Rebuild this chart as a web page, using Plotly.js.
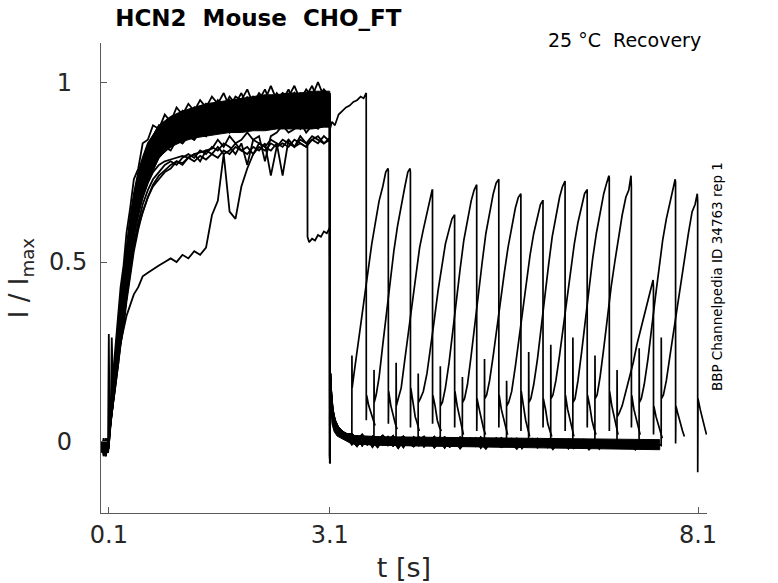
<!DOCTYPE html>
<html>
<head>
<meta charset="utf-8">
<script src="https://cdn.plot.ly/plotly-3.0.1.min.js"></script>
<style>
  html, body { margin: 0; padding: 0; background: #fff; }
  #chart { width: 778px; height: 583px; }
</style>
</head>
<body>
<div id="chart"></div>
<script>
// activation step (0.1 s -> 3.1 s), shared time grid
const actT = [0.00, 0.03, 0.06, 0.09, 0.10, 0.11, 0.125, 0.14, 0.16, 0.18, 0.20,
  0.23, 0.26, 0.30, 0.34, 0.39, 0.44, 0.50, 0.56, 0.63, 0.70,
  0.78, 0.86, 0.94, 1.02, 1.10, 1.18, 1.26, 1.34, 1.42, 1.50,
  1.58, 1.66, 1.74, 1.82, 1.90, 1.98, 2.06, 2.14, 2.22, 2.30,
  2.38, 2.46, 2.54, 2.62, 2.70, 2.78, 2.86, 2.94, 3.02, 3.10];

// fast sweeps
const actF1 = [-0.02, 0.01, -0.03, -0.01, 0.00, 0.05, 0.10, 0.13, 0.19, 0.24, 0.29,
  0.36, 0.43, 0.49, 0.58, 0.65, 0.73, 0.76, 0.83, 0.84, 0.88,
  0.87, 0.91, 0.89, 0.93, 0.91, 0.94, 0.92, 0.95, 0.93, 0.96,
  0.94, 0.97, 0.93, 0.96, 0.95, 0.98, 0.94, 0.97, 0.95, 0.99,
  0.95, 0.97, 0.96, 0.99, 0.95, 0.98, 0.96, 1.00, 0.96, 0.97];
const actF2 = [-0.01, -0.03, 0.00, -0.02, 0.01, 0.04, 0.08, 0.12, 0.17, 0.22, 0.27,
  0.33, 0.40, 0.47, 0.54, 0.62, 0.69, 0.75, 0.79, 0.83, 0.85,
  0.88, 0.86, 0.90, 0.89, 0.92, 0.90, 0.93, 0.91, 0.94, 0.92,
  0.95, 0.93, 0.96, 0.94, 0.97, 0.93, 0.96, 0.95, 0.98, 0.94,
  0.97, 0.95, 0.98, 0.94, 0.97, 0.96, 0.99, 0.95, 0.98, 0.96];
const actF3 = [0.00, -0.02, -0.04, 0.01, -0.01, 0.04, 0.07, 0.11, 0.16, 0.21, 0.25,
  0.31, 0.38, 0.44, 0.52, 0.59, 0.66, 0.72, 0.77, 0.81, 0.84,
  0.85, 0.88, 0.87, 0.90, 0.88, 0.91, 0.90, 0.92, 0.90, 0.93,
  0.91, 0.94, 0.92, 0.95, 0.93, 0.96, 0.92, 0.95, 0.94, 0.96,
  0.93, 0.96, 0.94, 0.97, 0.95, 0.93, 0.97, 0.95, 0.98, 0.95];
const actF4 = [-0.03, 0.00, -0.01, -0.03, 0.00, 0.06, 0.07, 0.10, 0.15, 0.20, 0.24,
  0.30, 0.36, 0.42, 0.50, 0.57, 0.64, 0.70, 0.75, 0.79, 0.82,
  0.86, 0.84, 0.88, 0.87, 0.89, 0.91, 0.88, 0.92, 0.91, 0.93,
  0.90, 0.93, 0.95, 0.91, 0.94, 0.92, 0.96, 0.93, 0.95, 0.92,
  0.96, 0.93, 0.95, 0.97, 0.93, 0.96, 0.94, 0.97, 0.94, 0.95];
const actF5 = [-0.02, -0.01, -0.03, 0.00, 0.30, 0.04, 0.06, 0.09, 0.14, 0.18, 0.22,
  0.28, 0.34, 0.40, 0.47, 0.55, 0.62, 0.68, 0.73, 0.77, 0.80,
  0.83, 0.85, 0.84, 0.87, 0.86, 0.89, 0.87, 0.90, 0.88, 0.91,
  0.89, 0.92, 0.90, 0.93, 0.91, 0.94, 0.92, 0.90, 0.94, 0.93,
  0.91, 0.95, 0.92, 0.94, 0.96, 0.92, 0.95, 0.93, 0.96, 0.94];
const actF6 = [-0.01, -0.04, -0.02, 0.00, -0.01, 0.03, 0.06, 0.09, 0.13, 0.17, 0.21,
  0.27, 0.32, 0.38, 0.45, 0.53, 0.60, 0.66, 0.71, 0.75, 0.79,
  0.82, 0.84, 0.83, 0.86, 0.85, 0.87, 0.89, 0.86, 0.90, 0.88,
  0.91, 0.88, 0.92, 0.90, 0.93, 0.89, 0.92, 0.91, 0.94, 0.90,
  0.93, 0.91, 0.94, 0.92, 0.90, 0.94, 0.92, 0.95, 0.91, 0.93];
const actF7 = [-0.02, 0.00, -0.03, -0.02, 0.00, 0.03, 0.05, 0.29, 0.12, 0.16, 0.19,
  0.25, 0.30, 0.36, 0.43, 0.51, 0.58, 0.64, 0.69, 0.73, 0.77,
  0.80, 0.82, 0.81, 0.84, 0.83, 0.85, 0.84, 0.87, 0.85, 0.88,
  0.86, 0.89, 0.87, 0.90, 0.88, 0.91, 0.87, 0.90, 0.89, 0.92,
  0.88, 0.91, 0.89, 0.92, 0.90, 0.93, 0.89, 0.92, 0.90, 0.91];
const actF8 = [-0.01, -0.02, -0.04, -0.01, 0.01, 0.03, 0.05, 0.07, 0.11, 0.14, 0.17,
  0.22, 0.28, 0.35, 0.42, 0.51, 0.59, 0.66, 0.70, 0.73, 0.76,
  0.79, 0.81, 0.82, 0.84, 0.83, 0.85, 0.84, 0.86, 0.85, 0.87,
  0.86, 0.88, 0.86, 0.89, 0.87, 0.88, 0.90, 0.87, 0.89, 0.88,
  0.90, 0.88, 0.91, 0.89, 0.87, 0.90, 0.89, 0.91, 0.88, 0.90];
// slower sweeps
const actL0 = [-0.02, 0.00, -0.02, -0.03, 0.00, 0.04, 0.06, 0.08, 0.12, 0.16, 0.19,
  0.24, 0.29, 0.35, 0.42, 0.50, 0.57, 0.63, 0.68, 0.72, 0.75,
  0.77, 0.78, 0.785, 0.79, 0.795, 0.79, 0.80, 0.805, 0.81, 0.815,
  0.84, 0.82, 0.85, 0.83, 0.84, 0.86, 0.84, 0.85, 0.78, 0.85,
  0.86, 0.88, 0.86, 0.87, 0.89, 0.86, 0.88, 0.87, 0.89, 0.88];
const actL1 = [-0.03, -0.01, 0.00, -0.02, 0.00, 0.04, 0.06, 0.08, 0.11, 0.15, 0.18,
  0.23, 0.27, 0.33, 0.40, 0.47, 0.54, 0.60, 0.64, 0.68, 0.715,
  0.74, 0.755, 0.77, 0.78, 0.775, 0.79, 0.78, 0.795, 0.785, 0.80,
  0.79, 0.81, 0.80, 0.82, 0.81, 0.80, 0.82, 0.81, 0.83, 0.74,
  0.82, 0.83, 0.82, 0.84, 0.83, 0.82, 0.84, 0.83, 0.85, 0.835];
const actL2 = [-0.01, -0.02, 0.01, -0.02, -0.01, 0.03, 0.05, 0.08, 0.12, 0.15, 0.19,
  0.24, 0.28, 0.34, 0.41, 0.48, 0.55, 0.61, 0.66, 0.70, 0.73,
  0.75, 0.77, 0.78, 0.77, 0.79, 0.80, 0.79, 0.81, 0.80, 0.82,
  0.81, 0.83, 0.82, 0.80, 0.83, 0.77, 0.84, 0.83, 0.82, 0.84,
  0.83, 0.74, 0.84, 0.82, 0.85, 0.83, 0.84, 0.85, 0.83, 0.845];
// sweep that steps down to ~0.57 near 2.8 s
const actL3 = [0.00, -0.03, -0.01, 0.00, -0.02, 0.03, 0.05, 0.07, 0.11, 0.14, 0.18,
  0.22, 0.27, 0.32, 0.39, 0.46, 0.53, 0.59, 0.64, 0.68, 0.71,
  0.73, 0.75, 0.76, 0.78, 0.77, 0.79, 0.80, 0.78, 0.81, 0.80,
  0.82, 0.80, 0.81, 0.83, 0.81, 0.82, 0.80, 0.83, 0.82, 0.81,
  0.83, 0.82, 0.84, 0.82, 0.83, 0.82];
const stepT = [2.797, 2.798, 2.82, 2.86, 2.90, 2.94, 2.98, 3.02, 3.06, 3.10];
const stepY = [0.83, 0.57, 0.555, 0.565, 0.56, 0.575, 0.57, 0.585, 0.58, 0.595];
// the slowest sweep
const actS = [-0.02, 0.00, -0.03, -0.01, 0.01, 0.06, 0.10, 0.13, 0.17, 0.20, 0.22,
  0.25, 0.28, 0.31, 0.35, 0.38, 0.41, 0.43, 0.46, 0.47, 0.48,
  0.49, 0.50, 0.51, 0.50, 0.52, 0.51, 0.53, 0.52, 0.54, 0.63,
  0.67, 0.80, 0.64, 0.62, 0.71, 0.76, 0.80, 0.82, 0.81, 0.83,
  0.82, 0.84, 0.83, 0.82, 0.84, 0.83, 0.85, 0.84, 0.83, 0.84];

// dense core of the fast sweeps (noise makes it solid black)
const coreT  = [0.14, 0.18, 0.23, 0.30, 0.39, 0.50, 0.63, 0.78, 0.94, 1.10, 1.26, 1.42, 1.58, 1.74, 1.90, 2.06, 2.22, 2.38, 2.54, 2.70, 2.86, 3.02, 3.10];
const coreHi = [0.11, 0.21, 0.33, 0.47, 0.63, 0.75, 0.83, 0.88, 0.905, 0.92, 0.93, 0.94, 0.945, 0.95, 0.955, 0.96, 0.965, 0.965, 0.97, 0.97, 0.975, 0.975, 0.975];
const coreLo = [0.07, 0.15, 0.25, 0.37, 0.51, 0.64, 0.72, 0.79, 0.82, 0.835, 0.845, 0.85, 0.855, 0.86, 0.86, 0.865, 0.865, 0.87, 0.87, 0.87, 0.87, 0.875, 0.875];

// deactivation + waiting time before each test pulse (shared grid)
const baseT = [3.101, 3.104, 3.11, 3.12, 3.14, 3.17, 3.21, 3.26, 3.32,
  3.40, 3.47, 3.54, 3.61, 3.68, 3.75, 3.82, 3.89, 3.96, 4.03,
  4.10, 4.17, 4.24, 4.31, 4.38, 4.45, 4.52, 4.59, 4.66, 4.73,
  4.80, 4.87, 4.94, 5.01, 5.08, 5.15, 5.22, 5.29, 5.36, 5.43,
  5.50, 5.57, 5.64, 5.71, 5.78, 5.85, 5.92, 5.99, 6.06, 6.13,
  6.20, 6.27, 6.34, 6.41, 6.48, 6.55, 6.62, 6.69, 6.76, 6.83,
  6.90, 6.97, 7.04, 7.11, 7.18, 7.25, 7.32, 7.39, 7.46, 7.53,
  7.60];
const base1 = [-0.05, 0.24, 0.18, 0.13, 0.085, 0.055, 0.04, 0.03, 0.02,
  0.018, 0.005, 0.020, 0.002, 0.014, -0.006, 0.012, 0.000, 0.016, -0.008,
  0.010, -0.004, 0.013, -0.010, 0.008, 0.001, 0.014, -0.007, 0.009, -0.012,
  0.006, 0.012, -0.008, 0.010, -0.005, 0.013, -0.011, 0.007, 0.000, 0.011,
  -0.009, 0.008, -0.014, 0.006, 0.002, -0.010, 0.009, -0.006, 0.005, -0.013,
  0.007, -0.008, 0.004, -0.015, 0.006, -0.005, -0.012, 0.005, -0.010, 0.003,
  -0.016, -0.002, 0.006, -0.014, -0.005, 0.004, -0.017, -0.004, 0.002, -0.013,
  -0.006];
const base2 = [-0.04, 0.20, 0.16, 0.11, 0.075, 0.05, 0.035, 0.022, 0.015,
  -0.007, 0.014, -0.010, 0.011, -0.014, 0.008, -0.006, 0.013, -0.011, 0.006,
  -0.015, 0.010, -0.002, 0.012, -0.013, 0.005, -0.009, 0.011, -0.016, 0.004,
  0.009, -0.012, 0.007, -0.008, 0.010, -0.017, 0.003, -0.006, 0.008, -0.014,
  0.005, -0.011, 0.007, -0.018, 0.000, 0.006, -0.013, 0.004, -0.015, 0.008,
  -0.010, 0.003, -0.019, 0.005, -0.008, 0.006, -0.014, -0.001, -0.020, 0.004,
  -0.011, -0.004, 0.003, -0.017, -0.007, -0.022, 0.000, -0.013, -0.006, -0.018,
  -0.003];
const base3 = [-0.06, 0.26, 0.19, 0.14, 0.09, 0.06, 0.042, 0.03, 0.022,
  0.022, 0.008, 0.018, 0.004, 0.015, 0.007, 0.017, 0.001, 0.012, 0.005,
  0.015, -0.001, 0.011, 0.004, 0.014, -0.003, 0.010, 0.002, 0.013, -0.002,
  0.008, 0.012, 0.000, 0.009, -0.004, 0.011, 0.002, -0.003, 0.010, -0.001,
  0.007, -0.006, 0.009, 0.001, -0.005, 0.008, -0.002, 0.006, -0.007, 0.005,
  0.000, -0.009, 0.006, -0.004, 0.004, -0.010, 0.003, -0.006, 0.005, -0.012,
  -0.002, 0.004, -0.008, -0.003, 0.003, -0.013, -0.005, 0.001, -0.010, -0.004,
  -0.008];
const base4 = [-0.045, 0.21, 0.17, 0.12, 0.08, 0.052, 0.038, 0.027, 0.018,
  0.004, -0.012, 0.008, -0.008, 0.002, -0.015, 0.006, -0.010, 0.003, -0.017,
  0.005, -0.004, -0.013, 0.002, -0.011, 0.006, -0.016, 0.000, -0.005, -0.014,
  0.003, -0.018, -0.002, 0.004, -0.012, -0.003, -0.019, 0.001, -0.008, -0.015,
  0.002, -0.006, -0.020, -0.001, -0.013, 0.003, -0.017, -0.007, -0.002, -0.021,
  -0.004, -0.014, 0.000, -0.018, -0.008, -0.003, -0.022, -0.006, -0.015, -0.001,
  -0.019, -0.009, -0.024, -0.005, -0.016, -0.010, -0.026, -0.007, -0.020, -0.012,
  -0.022];
// dense core of the waiting baseline
const floorT  = [3.115, 3.13, 3.16, 3.20, 3.28, 3.40, 3.8, 4.3, 4.8, 5.3, 5.8, 6.3, 6.8, 7.3, 7.58];
const floorHi = [0.17, 0.10, 0.06, 0.042, 0.028, 0.018, 0.014, 0.013, 0.012, 0.011, 0.010, 0.009, 0.008, 0.007, 0.006];
const floorLo = [0.10, 0.05, 0.028, 0.016, 0.006, -0.006, -0.010, -0.012, -0.013, -0.014, -0.016, -0.018, -0.019, -0.021, -0.022];

// recovery intervals and level of each sweep at 3.1 s
const delays = [0, 0.3, 0.6, 0.9, 1.2, 1.5, 1.8, 2.1, 2.4, 2.7, 3.0, 3.3, 3.6, 3.9, 4.2, 4.5];
const recStart = [0.88, 0.97, 0.965, 0.955, 0.95, 0.94, 0.93, 0.915, 0.90, 0.835, 0.845, 0.595, 0.84, 0.97, 0.96, 0.95];

// test pulse, time after its start
const testOff = [0, 0.001, 0.004, 0.03, 0.07, 0.12, 0.17, 0.22, 0.27, 0.32, 0.37, 0.42, 0.46, 0.49,
  0.495, 0.496, 0.50, 0.53, 0.56, 0.59, 0.615];
const rec00 = [0.88, 0.91, 0.87, 0.89, 0.88, 0.91, 0.92, 0.93, 0.935, 0.945, 0.95, 0.96, 0.955, 0.97, 0.97, 0.06, 0.13, 0.10, 0.08, 0.06, 0.045];
const rec01 = [0.01, 0.24, 0.15, 0.19, 0.25, 0.33, 0.41, 0.48, 0.55, 0.61, 0.67, 0.71, 0.75, 0.76, 0.755, 0.05, 0.14, 0.10, 0.07, 0.05, 0.035];
const rec02 = [0.00, 0.20, 0.11, 0.13, 0.18, 0.27, 0.36, 0.45, 0.53, 0.60, 0.66, 0.71, 0.75, 0.76, 0.75, 0.04, 0.15, 0.11, 0.07, 0.05, 0.03];
const rec03 = [0.01, 0.22, 0.10, 0.12, 0.15, 0.23, 0.31, 0.39, 0.47, 0.54, 0.59, 0.64, 0.68, 0.70, 0.70, 0.05, 0.13, 0.10, 0.06, 0.04, 0.03];
const rec04 = [0.00, 0.19, 0.11, 0.12, 0.14, 0.19, 0.26, 0.34, 0.42, 0.49, 0.55, 0.59, 0.62, 0.63, 0.63, 0.04, 0.14, 0.10, 0.07, 0.04, 0.02];
const rec05 = [-0.005, 0.21, 0.10, 0.11, 0.15, 0.22, 0.31, 0.40, 0.48, 0.56, 0.62, 0.67, 0.70, 0.71, 0.715, 0.03, 0.12, 0.09, 0.06, 0.035, 0.02];
const rec06 = [0.00, 0.18, 0.11, 0.12, 0.16, 0.24, 0.33, 0.42, 0.50, 0.58, 0.64, 0.69, 0.72, 0.73, 0.73, 0.04, 0.13, 0.09, 0.06, 0.04, 0.02];
const rec07 = [0.00, 0.23, 0.12, 0.13, 0.17, 0.24, 0.32, 0.40, 0.47, 0.54, 0.60, 0.65, 0.68, 0.69, 0.69, 0.03, 0.14, 0.10, 0.06, 0.035, 0.015];
const rec08 = [-0.01, 0.17, 0.10, 0.11, 0.14, 0.21, 0.29, 0.37, 0.45, 0.52, 0.58, 0.63, 0.66, 0.67, 0.67, 0.04, 0.12, 0.09, 0.05, 0.03, 0.015];
const rec09 = [0.00, 0.25, 0.11, 0.12, 0.16, 0.23, 0.32, 0.41, 0.49, 0.57, 0.63, 0.68, 0.71, 0.72, 0.725, 0.03, 0.13, 0.09, 0.06, 0.035, 0.015];
const rec10 = [-0.005, 0.27, 0.12, 0.13, 0.17, 0.24, 0.32, 0.40, 0.48, 0.55, 0.61, 0.66, 0.69, 0.70, 0.70, 0.04, 0.13, 0.10, 0.06, 0.035, 0.02];
const rec11 = [-0.01, 0.29, 0.11, 0.12, 0.17, 0.25, 0.34, 0.43, 0.51, 0.58, 0.64, 0.69, 0.72, 0.74, 0.735, 0.03, 0.14, 0.10, 0.07, 0.04, 0.02];
const rec12 = [-0.005, 0.24, 0.12, 0.13, 0.18, 0.26, 0.35, 0.43, 0.50, 0.57, 0.63, 0.68, 0.70, 0.74, 0.71, 0.04, 0.13, 0.09, 0.06, 0.04, 0.02];
const rec13 = [-0.01, 0.20, 0.07, 0.08, 0.10, 0.14, 0.18, 0.22, 0.27, 0.31, 0.35, 0.39, 0.42, 0.45, 0.43, 0.02, 0.10, 0.07, 0.05, 0.03, 0.01];
const rec14 = [-0.01, 0.26, 0.11, 0.12, 0.16, 0.23, 0.32, 0.40, 0.48, 0.56, 0.62, 0.67, 0.71, 0.73, 0.72, -0.005, 0.10, 0.075, 0.05, 0.03, 0.015];
const rec15 = [-0.01, 0.29, 0.12, 0.13, 0.17, 0.24, 0.31, 0.38, 0.45, 0.52, 0.58, 0.64, 0.66, 0.69, 0.67, -0.085, 0.12, 0.09, 0.06, 0.04, 0.02];

const xTicks = [0.1, 3.1, 8.1];
const yTicks = [0, 0.5, 1];
const yTickText = ['0\u00a0\u00a0', '0.5', '1\u00a0\u00a0'];

const FONT = 'DejaVu Sans, Verdana, sans-serif';
const traces = [];

function addLine(x, y, w) {
  traces.push({x: x, y: y, type: 'scatter', mode: 'lines',
    line: {color: '#000', width: w}, hoverinfo: 'skip', showlegend: false});
}
function addCore(x, hi, lo) {
  traces.push({x: x.concat(x.slice().reverse()), y: hi.concat(lo.slice().reverse()),
    type: 'scatter', mode: 'lines', fill: 'toself', fillcolor: '#000',
    line: {color: '#000', width: 1}, hoverinfo: 'skip', showlegend: false});
}

addCore(coreT, coreHi, coreLo);
addCore(floorT, floorHi, floorLo);

// activation part
[actF1, actF2, actF3, actF4, actF5, actF6, actF7, actF8, actL0, actL1, actL2, actS].forEach(a => {
  addLine(actT.slice(0, a.length), a, 1.8);
});
addLine(actT.slice(0, actL3.length).concat(stepT), actL3.concat(stepY), 1.8);

// deactivation + test pulse for every sweep
const bases = [base1, base2, base3, base4];
const recs = [rec00, rec01, rec02, rec03, rec04, rec05, rec06, rec07, rec08, rec09, rec10, rec11, rec12, rec13, rec14, rec15];
recs.forEach((r, k) => {
  const ts = 3.1 + delays[k];
  const xs = [], ys = [];
  if (delays[k] > 0) {
    xs.push(3.1); ys.push(recStart[k]);
    const b = bases[(k - 1) % 4];
    for (let i = 0; i < baseT.length; i++) {
      if (baseT[i] >= ts - 0.001) break;
      xs.push(baseT[i]); ys.push(b[i]);
    }
  }
  testOff.forEach((o, i) => { xs.push(ts + o); ys.push(r[i]); });
  addLine(xs, ys, 1.7);
});

const axisCommon = {
  showgrid: false, zeroline: false, showline: true, linecolor: '#5a5a5a', linewidth: 1,
  ticks: 'inside', ticklen: 6, tickwidth: 1, tickcolor: '#5a5a5a',
  tickfont: {family: FONT, size: 24, color: '#262626'}
};

const layout = {
  width: 778, height: 583,
  margin: {l: 101, r: 71, t: 43, b: 70},
  paper_bgcolor: '#fff', plot_bgcolor: '#fff',
  font: {family: FONT, color: '#262626'},
  title: {
    text: '<b>HCN2 \u00a0Mouse \u00a0CHO_FT</b>',
    font: {family: FONT, size: 23, color: '#000'},
    xref: 'container', yref: 'container', x: 0.148, xanchor: 'left', y: 0.969, yanchor: 'middle'
  },
  xaxis: Object.assign({}, axisCommon, {
    range: [-0.006, 8.222], tickmode: 'array', tickvals: xTicks, ticktext: xTicks.map(String),
    title: {text: 't [s]', font: {family: FONT, size: 27, color: '#262626'}, standoff: 10}
  }),
  yaxis: Object.assign({}, axisCommon, {
    range: [-0.198, 1.109], tickmode: 'array', tickvals: yTicks, ticktext: yTickText,
    ticklabelstandoff: 8,
    title: {text: 'I / I<sub>max</sub>', font: {family: FONT, size: 26, color: '#262626'}, standoff: 12}
  }),
  annotations: [
    {text: '25 °C \u00a0Recovery', xref: 'paper', yref: 'paper', x: 0.9926, y: 1.007,
     xanchor: 'right', yanchor: 'middle', showarrow: false,
     font: {family: FONT, size: 19, color: '#000'}},
    {text: 'BBP Channelpedia ID 34763 rep 1', xref: 'paper', yref: 'paper', x: 1.0157, y: 0.503,
     xanchor: 'center', yanchor: 'middle', textangle: -90, showarrow: false,
     font: {family: FONT, size: 13.5, color: '#000'}}
  ]
};

Plotly.newPlot('chart', traces, layout, {staticPlot: true, displayModeBar: false});
</script>
</body>
</html>
